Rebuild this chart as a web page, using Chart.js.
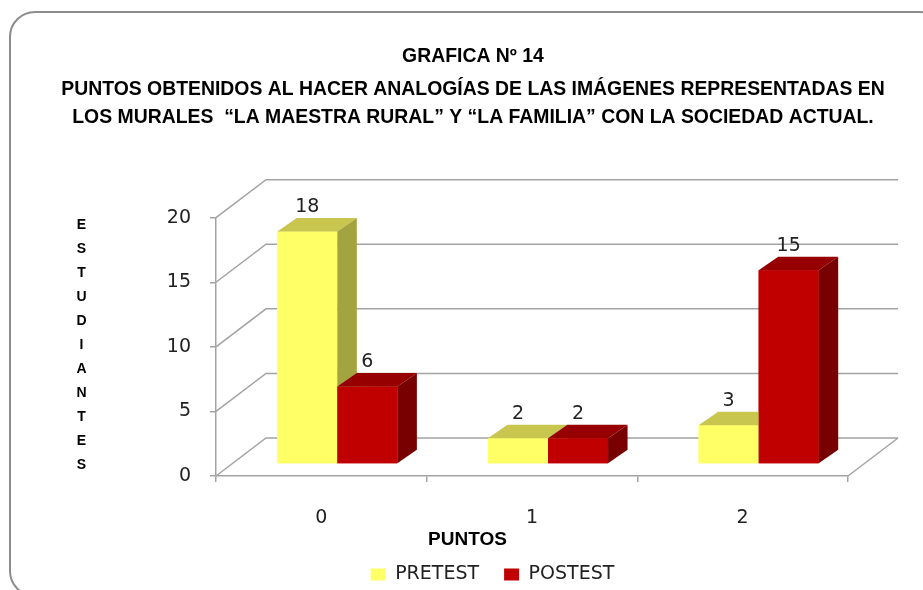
<!DOCTYPE html>
<html><head><meta charset="utf-8">
<script src="https://cdn.jsdelivr.net/npm/chart.js@4.4.0/dist/chart.umd.min.js"></script>
<style>html,body{margin:0;padding:0;background:#fff;}</style>
</head><body>
<canvas id="c" width="923" height="590"></canvas>
<script>
// ---- data ----
const categories = ['0', '1', '2'];
const pretest = [18, 2, 3];
const postest = [6, 2, 15];
const seriesNames = ['PRETEST', 'POSTEST'];
const yTickValues = [0, 5, 10, 15, 20];
const titleLines = [
  'GRAFICA Nº 14',
  'PUNTOS OBTENIDOS AL HACER ANALOGÍAS DE LAS IMÁGENES REPRESENTADAS EN',
  'LOS MURALES  “LA MAESTRA RURAL” Y “LA FAMILIA” CON LA SOCIEDAD ACTUAL.'
];
const xTitle = 'PUNTOS';
const yTitle = 'ESTUDIANTES';

// ---- styles ----
const GRID = '#A3A3A3';
const TXT = '#222222';
const FRONT = ['#FFFF66', '#C00000'];
const TOP = ['#C8C64F', '#960000'];
const SIDE = ['#A3A33F', '#780000'];
const BACK = {dx: 50, dy: -38};
const PLANE = {dx: 16, dy: -12};
const DEPTH = {dx: 19.5, dy: -13.5};
const NUMFONT = {family: 'DejaVu Sans', size: 19};

const plugin3d = {
  id: 'plugin3d',
  beforeDraw(chart) {
    const ctx = chart.ctx;
    ctx.save();
    ctx.fillStyle = '#fff';
    ctx.fillRect(0, 0, chart.width, chart.height);
    ctx.strokeStyle = '#8C8C8C';
    ctx.lineWidth = 2;
    ctx.beginPath();
    ctx.roundRect(10, 12, 935, 584, 25);
    ctx.stroke();
    ctx.restore();
  },
  beforeDatasetsDraw(chart) {
    const ctx = chart.ctx;
    const ys = chart.scales.y, area = chart.chartArea;
    ctx.save();
    ctx.strokeStyle = GRID;
    ctx.lineWidth = 1.5;
    yTickValues.forEach(v => {
      const fy = ys.getPixelForValue(v);
      ctx.beginPath();
      ctx.moveTo(area.left, fy);
      ctx.lineTo(area.left + BACK.dx, fy + BACK.dy);
      ctx.lineTo(area.right + BACK.dx, fy + BACK.dy);
      ctx.stroke();
    });
    const f0 = ys.getPixelForValue(0);
    ctx.beginPath();
    ctx.moveTo(area.right, f0);
    ctx.lineTo(area.right + BACK.dx, f0 + BACK.dy);
    ctx.stroke();
    ctx.restore();
    ctx.save();
    ctx.translate(PLANE.dx, PLANE.dy);
  },
  afterDatasetsDraw(chart) {
    const ctx = chart.ctx;
    const metas = [chart.getDatasetMeta(0), chart.getDatasetMeta(1)];
    categories.forEach((c, i) => {
      metas.forEach((meta, d) => {
        const el = meta.data[i];
        el.draw(ctx);
        const L = el.x - el.width / 2, R = el.x + el.width / 2, T = el.y, B = el.base;
        ctx.fillStyle = TOP[d];
        ctx.beginPath();
        ctx.moveTo(L, T); ctx.lineTo(R, T);
        ctx.lineTo(R + DEPTH.dx, T + DEPTH.dy); ctx.lineTo(L + DEPTH.dx, T + DEPTH.dy);
        ctx.closePath(); ctx.fill();
        ctx.fillStyle = SIDE[d];
        ctx.beginPath();
        ctx.moveTo(R, T); ctx.lineTo(R + DEPTH.dx, T + DEPTH.dy);
        ctx.lineTo(R + DEPTH.dx, B + DEPTH.dy); ctx.lineTo(R, B);
        ctx.closePath(); ctx.fill();
      });
    });
    ctx.fillStyle = TXT;
    ctx.font = NUMFONT.size + 'px "' + NUMFONT.family + '"';
    ctx.textAlign = 'center';
    ctx.textBaseline = 'middle';
    metas.forEach((meta, d) => {
      const vals = chart.data.datasets[d].data;
      meta.data.forEach((el, i) => {
        ctx.fillText(String(vals[i]), el.x, el.y - 24);
      });
    });
    ctx.restore();
  },
  afterDraw(chart) {
    const ctx = chart.ctx;
    ctx.save();
    ctx.fillStyle = '#000';
    ctx.textAlign = 'center';
    ctx.textBaseline = 'alphabetic';
    ctx.font = 'bold 19.4px "Liberation Sans"';
    const tys = [62, 94.5, 123];
    titleLines.forEach((t, k) => ctx.fillText(t, 473, tys[k]));
    ctx.font = 'bold 19px "Liberation Sans"';
    ctx.fillText(xTitle, 467.5, 545);
    ctx.font = 'bold 14px "Liberation Sans"';
    ctx.textBaseline = 'middle';
    yTitle.split('').forEach((ch, k) => ctx.fillText(ch, 81.5, 225 + k * 24));
    ctx.restore();
  }
};

new Chart(document.getElementById('c'), {
  type: 'bar',
  data: {
    labels: categories,
    datasets: [
      {label: seriesNames[0], data: pretest, backgroundColor: FRONT[0], borderWidth: 0, clip: false},
      {label: seriesNames[1], data: postest, backgroundColor: FRONT[1], borderWidth: 0, clip: false}
    ]
  },
  options: {
    responsive: false,
    animation: false,
    devicePixelRatio: 1,
    categoryPercentage: 0.57,
    barPercentage: 1.0,
    layout: {padding: {left: 62, right: 0, top: 217.7, bottom: -4}},
    plugins: {
      legend: {
        position: 'bottom',
        labels: {boxWidth: 15, boxHeight: 12, padding: 25, font: NUMFONT, color: TXT}
      },
      tooltip: {enabled: false},
      title: {display: false}
    },
    scales: {
      x: {
        grid: {display: true, drawOnChartArea: false, drawTicks: true, tickLength: 6, color: GRID, lineWidth: 1.5, offset: true},
        border: {display: true, color: GRID, width: 1.5},
        ticks: {font: NUMFONT, color: TXT, padding: 25},
        afterFit(s) { s.height = 64; }
      },
      y: {
        min: 0, max: 20,
        ticks: {stepSize: 5, font: NUMFONT, color: TXT, padding: 19},
        grid: {display: true, drawOnChartArea: false, drawTicks: true, tickLength: 6, color: GRID, lineWidth: 1.5},
        border: {display: true, color: GRID, width: 1.5},
        afterFit(s) { s.width = 154; }
      },
      y2: {
        type: 'linear', position: 'right', display: true,
        grid: {display: false}, border: {display: false}, ticks: {display: false},
        afterFit(s) { s.width = 75; }
      }
    }
  },
  plugins: [plugin3d]
});
</script>
</body></html>
